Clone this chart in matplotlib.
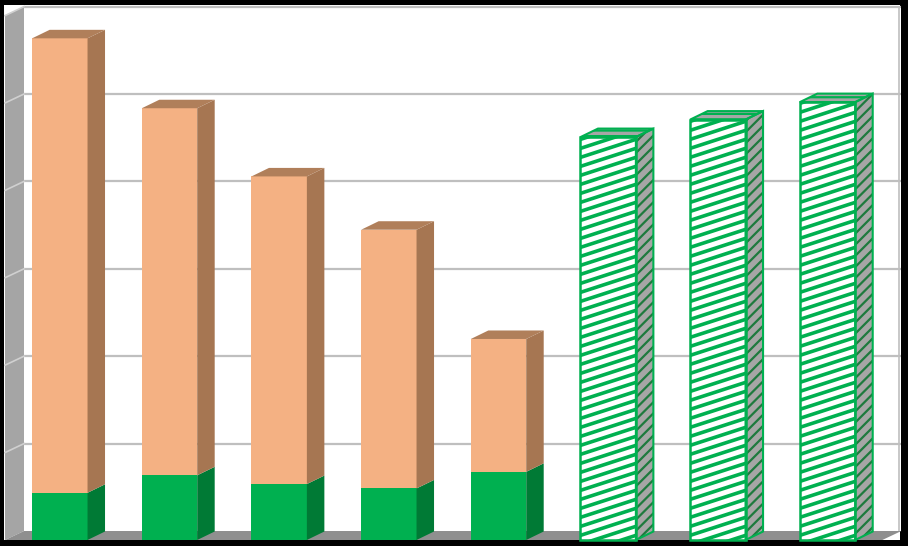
import matplotlib
matplotlib.use("Agg")
import matplotlib.pyplot as plt
from matplotlib.patches import Polygon, Rectangle
import numpy as np

# ---------------- data ----------------
categories = ["1", "2", "3", "4", "5", "6", "7", "8"]
solid_idx = [0, 1, 2, 3, 4]
green_values = [0.54, 0.74, 0.64, 0.59, 0.78]
peach_values = [5.20, 4.20, 3.52, 2.96, 1.52]
hatched_idx = [5, 6, 7]
hatched_values = [4.61, 4.81, 5.01]
y_max = 6
y_ticks = [0, 1, 2, 3, 4, 5, 6]

# ---------------- styling ----------------
PEACH = "#F4B183"; PEACH_SIDE = "#A67652"; PEACH_TOP = "#B07F5A"
GREEN = "#00B050"; GREEN_SIDE = "#007A35"
HATCH_SIDE_BG = "#A6A6A6"; HATCH_DARK = "#1E7A3E"
FLOOR = "#8F8F8F"; LWALL = "#A5A5A5"; GRID = "#BFBFBF"

W, H, DPI = 908, 546, 100
CAT_W = 109.67   # px per category
UNIT = 87.4      # px per value unit
LEFT_PX = 5.0
BASE_PX = 540.0

x0 = -0.5 - LEFT_PX / CAT_W
x1 = x0 + W / CAT_W
y0 = -(H - BASE_PX) / UNIT
y1 = y0 + H / UNIT

DX = 19 / CAT_W   # wall depth
DY = 9 / UNIT
BDX = 17.5 / CAT_W  # bar depth
BDY = 8.5 / UNIT
HALF = 0.2525

plt.rcParams["hatch.linewidth"] = 1.6

fig = plt.figure(figsize=(W / DPI, H / DPI), dpi=DPI, facecolor="black")
ax = fig.add_axes([0, 0, 1, 1])
ax.set_xlim(x0, x1)
ax.set_ylim(y0, y1)
ax.axis("off")
ax.set_facecolor("black")

def px2x(px):
    return x0 + px / CAT_W

def py2v(py):
    return y1 - py / UNIT

n = len(categories)
xl_front, xr_front = -0.5, n - 0.5

# chart area (white)
ax.add_patch(Rectangle((px2x(4), py2v(540)), px2x(900) - px2x(4), py2v(5) - py2v(540),
                       facecolor="white", edgecolor="none", zorder=0))
# back wall
ax.add_patch(Rectangle((xl_front + DX, DY), n, y_max, facecolor="white",
                       edgecolor="none", zorder=1))
# back wall right edge
ax.plot([xr_front + DX - 0.02, xr_front + DX - 0.02], [DY, y_max + DY], color=GRID, lw=1.2, zorder=1.5)
# gridlines on back wall
for k in y_ticks[1:]:
    ax.plot([xl_front + DX, xr_front + DX], [k + DY, k + DY], color=GRID, lw=1.6, zorder=1.5,
            solid_capstyle="butt")
# left wall
ax.add_patch(Polygon([(xl_front, 0), (xl_front + DX, DY), (xl_front + DX, y_max + DY), (xl_front, y_max)],
                     closed=True, facecolor=LWALL, edgecolor="none", zorder=2))
for k in y_ticks[1:]:
    ax.plot([xl_front, xl_front + DX], [k, k + DY], color="#D0D0D0", lw=1.2, zorder=2.5)
# floor
ax.add_patch(Polygon([(xl_front, 0), (xr_front, 0), (xr_front + DX, DY), (xl_front + DX, DY)],
                     closed=True, facecolor=FLOOR, edgecolor="none", zorder=2))


def box(x, b, t, front, side, top, z, draw_top=True):
    xl, xr = x - HALF, x + HALF
    ax.add_patch(Polygon([(xl, b), (xr, b), (xr, t), (xl, t)], closed=True,
                         facecolor=front, edgecolor="none", zorder=z))
    ax.add_patch(Polygon([(xr, b), (xr + BDX, b + BDY), (xr + BDX, t + BDY), (xr, t)], closed=True,
                         facecolor=side, edgecolor="none", zorder=z))
    if draw_top:
        ax.add_patch(Polygon([(xl, t), (xr, t), (xr + BDX, t + BDY), (xl + BDX, t + BDY)], closed=True,
                             facecolor=top, edgecolor="none", zorder=z))


# stacked solid bars
for i, g, p in zip(solid_idx, green_values, peach_values):
    box(i, 0, g, GREEN, GREEN_SIDE, GREEN_SIDE, 5, draw_top=False)
    box(i, g, g + p, PEACH, PEACH_SIDE, PEACH_TOP, 5)

# hatched bars
stripe_rise = 18 / UNIT
stripe_step = 9 / UNIT
for i, v in zip(hatched_idx, hatched_values):
    xl, xr = i - HALF, i + HALF
    front = Polygon([(xl, 0), (xr, 0), (xr, v), (xl, v)], closed=True,
                    facecolor="white", edgecolor="none", zorder=5)
    ax.add_patch(front)
    for s in np.arange(-stripe_rise - 0.05, v + stripe_step, stripe_step):
        ln, = ax.plot([xl - 0.05, xr + 0.05], [s - 0.05 * stripe_rise / (2 * HALF),
                                                 s + stripe_rise + 0.05 * stripe_rise / (2 * HALF)],
                      color=GREEN, lw=2.6, zorder=5.1, solid_capstyle="butt")
        ln.set_clip_path(front)
    ax.add_patch(Polygon([(xl, 0), (xr, 0), (xr, v), (xl, v)], closed=True,
                         facecolor="none", edgecolor=GREEN, lw=1.8, zorder=5.3))
    # side
    ax.add_patch(Polygon([(xr, 0), (xr + BDX, BDY), (xr + BDX, v + BDY), (xr, v)], closed=True,
                         facecolor=HATCH_SIDE_BG, edgecolor=HATCH_DARK, lw=0, hatch="///", zorder=5))
    ax.add_patch(Polygon([(xr, 0), (xr + BDX, BDY), (xr + BDX, v + BDY), (xr, v)], closed=True,
                         facecolor="none", edgecolor=GREEN, lw=1.5, zorder=5.3))
    # top
    ax.add_patch(Polygon([(xl, v), (xr, v), (xr + BDX, v + BDY), (xl + BDX, v + BDY)], closed=True,
                         facecolor=HATCH_SIDE_BG, edgecolor=GREEN, lw=0, hatch="---", zorder=5))
    ax.add_patch(Polygon([(xl, v), (xr, v), (xr + BDX, v + BDY), (xl + BDX, v + BDY)], closed=True,
                         facecolor="none", edgecolor=GREEN, lw=1.5, zorder=5.3))

fig.savefig("out.png", dpi=DPI, facecolor=fig.get_facecolor())
